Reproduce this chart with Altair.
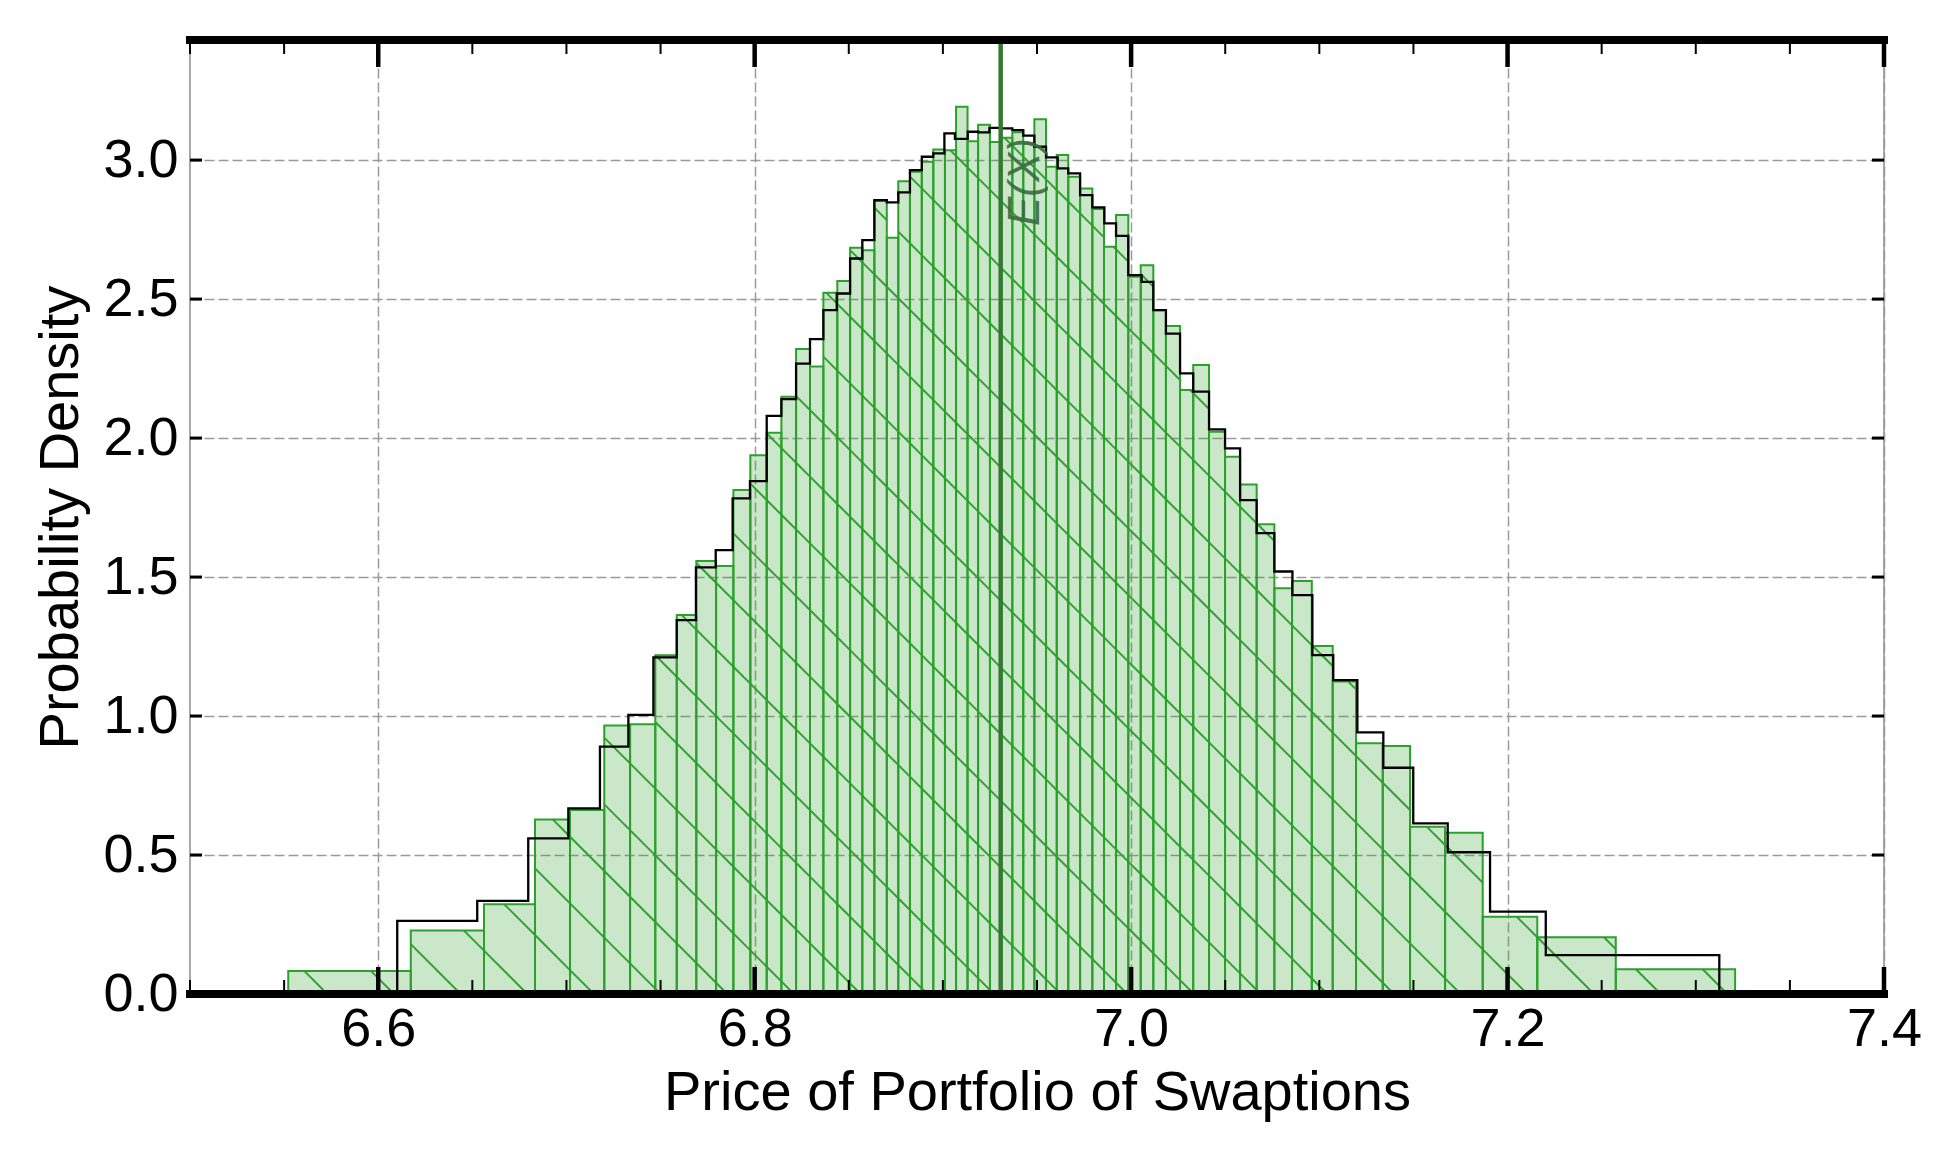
import altair as alt
import numpy as np
import pandas as pd

# ---------------- data ----------------
green_edges = [
    6.5522, 6.6173, 6.6562, 6.6833, 6.7019, 6.7201, 6.7338, 6.7472, 6.7586, 6.7690,
    6.7795, 6.7887, 6.7977, 6.8064, 6.8142, 6.8220, 6.8294, 6.8365, 6.8439, 6.8507,
    6.8572, 6.8636, 6.8702, 6.8763, 6.8825, 6.8888, 6.8949, 6.9011, 6.9070, 6.9131,
    6.9187, 6.9250, 6.9307, 6.9369, 6.9427, 6.9486, 6.9548, 6.9605, 6.9666, 6.9729,
    6.9794, 6.9856, 6.9920, 6.9985, 7.0051, 7.0118, 7.0185, 7.0260, 7.0330, 7.0414,
    7.0499, 7.0579, 7.0667, 7.0761, 7.0855, 7.0960, 7.1071, 7.1195, 7.1337, 7.1482,
    7.1668, 7.1868, 7.2158, 7.2575, 7.3209,
]
green_density = [
    0.083, 0.228, 0.323, 0.628, 0.662, 0.966, 0.970, 1.219, 1.363, 1.558,
    1.540, 1.813, 1.938, 2.019, 2.149, 2.320, 2.257, 2.523, 2.565, 2.685,
    2.676, 2.853, 2.721, 2.924, 2.958, 2.994, 3.038, 3.035, 3.192, 3.068,
    3.127, 3.065, 3.080, 3.100, 3.060, 3.147, 2.976, 3.018, 2.940, 2.898,
    2.824, 2.688, 2.802, 2.580, 2.622, 2.460, 2.403, 2.173, 2.263, 2.023,
    1.933, 1.833, 1.690, 1.460, 1.486, 1.252, 1.124, 0.902, 0.892, 0.602,
    0.580, 0.278, 0.204, 0.089,
]
black_edges = [
    6.6101, 6.6526, 6.6797, 6.7010, 6.7178, 6.7329, 6.7462, 6.7586, 6.7688, 6.7793,
    6.7883, 6.7975, 6.8064, 6.8142, 6.8220, 6.8294, 6.8365, 6.8436, 6.8507, 6.8572,
    6.8636, 6.8702, 6.8763, 6.8825, 6.8888, 6.8949, 6.9008, 6.9064, 6.9132, 6.9188,
    6.9247, 6.9309, 6.9369, 6.9427, 6.9486, 6.9548, 6.9610, 6.9666, 6.9729, 6.9794,
    6.9858, 6.9920, 6.9985, 7.0056, 7.0118, 7.0185, 7.0260, 7.0330, 7.0414, 7.0499,
    7.0579, 7.0667, 7.0761, 7.0857, 7.0963, 7.1074, 7.1202, 7.1340, 7.1499, 7.1682,
    7.1907, 7.2203, 7.3125,
]
black_density = [
    0.263, 0.335, 0.560, 0.668, 0.890, 1.004, 1.211, 1.345, 1.535, 1.597,
    1.783, 1.845, 2.080, 2.140, 2.268, 2.356, 2.460, 2.520, 2.646, 2.712,
    2.856, 2.848, 2.884, 2.964, 3.012, 3.024, 3.096, 3.076, 3.102, 3.100,
    3.116, 3.114, 3.108, 3.088, 3.048, 3.010, 2.970, 2.952, 2.874, 2.830,
    2.772, 2.727, 2.586, 2.562, 2.460, 2.376, 2.233, 2.167, 2.031, 1.963,
    1.777, 1.658, 1.520, 1.435, 1.219, 1.129, 0.941, 0.814, 0.614, 0.510,
    0.296, 0.140,
]
expected_value = 6.9307
ev_label = ["E(X)"]

x_major = [6.6, 6.8, 7.0, 7.2, 7.4]
x_minor = [6.50, 6.55, 6.65, 6.70, 6.75, 6.85, 6.90, 6.95,
           7.05, 7.10, 7.15, 7.25, 7.30, 7.35]
y_ticks = [0.0, 0.5, 1.0, 1.5, 2.0, 2.5, 3.0]

x_title = "Price of Portfolio of Swaptions"
y_title = "Probability Density"

# ---------------- styling ----------------
W, H = 1694, 954
X_DOMAIN = [6.5, 7.4]
Y_DOMAIN = [0.0, 3.432]
GREEN = "#2ca02c"
FONT = "Liberation Sans"
HATCH_SPACING = 66.67   # px between hatch lines
HATCH_PHASE = 50.0      # px

assert len(green_edges) == len(green_density) + 1
assert len(black_edges) == len(black_density) + 1

bars = pd.DataFrame({
    "lo": green_edges[:-1], "hi": green_edges[1:],
    "base": 0.0, "dens": green_density,
})

# step outline for the black histogram
sx, sy = [], []
prev = 0.0
for i, e in enumerate(black_edges):
    nxt = black_density[i] if i < len(black_density) else 0.0
    sx += [e, e]
    sy += [prev, nxt]
    prev = nxt
step = pd.DataFrame({"x": sx, "y": sy, "o": range(len(sx))})

# hatch ("\\") segments clipped to every green bar
def px(v):
    return (np.asarray(v) - X_DOMAIN[0]) / (X_DOMAIN[1] - X_DOMAIN[0]) * W

def py(h):
    return H - np.asarray(h) / (Y_DOMAIN[1] - Y_DOMAIN[0]) * H

def vx(p):
    return X_DOMAIN[0] + p / W * (X_DOMAIN[1] - X_DOMAIN[0])

def vy(p):
    return (H - p) / H * (Y_DOMAIN[1] - Y_DOMAIN[0])

segs = []
for lo, hi, d in zip(green_edges[:-1], green_edges[1:], green_density):
    xa, xb = float(px(lo)), float(px(hi))
    yt, yb = float(py(d)), float(py(0.0))
    kmin = int(np.floor((xa - yb - HATCH_PHASE) / HATCH_SPACING)) - 1
    kmax = int(np.ceil((xb - yt - HATCH_PHASE) / HATCH_SPACING)) + 1
    for k in range(kmin, kmax + 1):
        c = HATCH_PHASE + k * HATCH_SPACING
        ylo = max(yt, xa - c)
        yhi = min(yb, xb - c)
        if yhi - ylo > 0.5:
            segs.append({"x1": vx(ylo + c), "y1": vy(ylo),
                         "x2": vx(yhi + c), "y2": vy(yhi)})
hatch = pd.DataFrame(segs)

xscale = alt.Scale(domain=X_DOMAIN, nice=False, zero=False)
yscale = alt.Scale(domain=Y_DOMAIN, nice=False, zero=False)
xaxis = alt.Axis(values=x_major, format=".1f", labelPadding=8, titlePadding=9,
                 grid=True)
yaxis = alt.Axis(values=y_ticks, format=".1f", labelPadding=12, titlePadding=13,
                 grid=True)


def X(f):
    return alt.X(f, scale=xscale, axis=xaxis, title=x_title)


def Y(f):
    return alt.Y(f, scale=yscale, axis=yaxis, title=y_title)


bar_layer = alt.Chart(bars).mark_rect(
    fill=GREEN, fillOpacity=0.25, stroke=GREEN, strokeWidth=2.0
).encode(x=X("lo:Q"), x2="hi:Q", y=Y("base:Q"), y2="dens:Q")

hatch_layer = alt.Chart(hatch).mark_rule(
    color=GREEN, strokeWidth=1.9
).encode(x=X("x1:Q"), y=Y("y1:Q"), x2="x2:Q", y2="y2:Q")

step_layer = alt.Chart(step).mark_line(
    color="black", strokeWidth=2.3, strokeJoin="miter"
).encode(x=X("x:Q"), y=Y("y:Q"), order="o:Q")

ev_df = pd.DataFrame({"x": [expected_value], "t": ev_label})
ev_line = alt.Chart(ev_df).mark_rule(
    color="#347a34", strokeWidth=4.5
).encode(x=X("x:Q"))
ev_text = alt.Chart(ev_df).mark_text(
    angle=270, align="center", baseline="middle", dy=25,
    font=FONT, fontSize=44, fontStyle="italic", color="#3b6b40", opacity=0.9
).encode(x=X("x:Q"), y=alt.value(142), text="t:N")

maj_df = pd.DataFrame({"v": x_major})
min_df = pd.DataFrame({"v": x_minor})
yt_df = pd.DataFrame({"v": y_ticks})

ticks = []
for y0, y1 in [(H, H - 27), (0, 27)]:
    ticks.append(alt.Chart(maj_df).mark_rule(color="black", strokeWidth=4.5)
                 .encode(x=X("v:Q"), y=alt.value(y0), y2=alt.value(y1)))
for y0, y1 in [(H, H - 14), (0, 14)]:
    ticks.append(alt.Chart(min_df).mark_rule(color="black", strokeWidth=2)
                 .encode(x=X("v:Q"), y=alt.value(y0), y2=alt.value(y1)))
for x0, x1 in [(0, 12), (W - 12, W)]:
    ticks.append(alt.Chart(yt_df).mark_rule(color="black", strokeWidth=3)
                 .encode(y=Y("v:Q"), x=alt.value(x0), x2=alt.value(x1)))

spine_df = pd.DataFrame({"s": [0]})
spines = [
    alt.Chart(spine_df).mark_rule(color="black", strokeWidth=8, strokeCap="square")
    .encode(x=alt.value(0), x2=alt.value(W), y=alt.value(yy))
    for yy in (0, H)
]

chart = alt.layer(
    bar_layer, hatch_layer, step_layer, ev_line, ev_text, *ticks, *spines
).properties(
    width=W, height=H,
    autosize=alt.AutoSizeParams(type="none"),
    padding={"left": 182, "top": 32, "right": 67, "bottom": 150},
).configure_view(
    stroke="#8c8c8c", strokeWidth=1.5
).configure_axis(
    labelFont=FONT, titleFont=FONT, labelFontSize=54, titleFontSize=56,
    titleFontWeight="normal", labelColor="black", titleColor="black",
    gridColor="#9a9a9a", gridDash=[10, 4], gridWidth=1.5,
    domain=False, ticks=False, tickSize=0, labelFlush=False, labelOverlap=False,
)

chart.save("out.html", embed_options={"renderer": "svg", "actions": False})
